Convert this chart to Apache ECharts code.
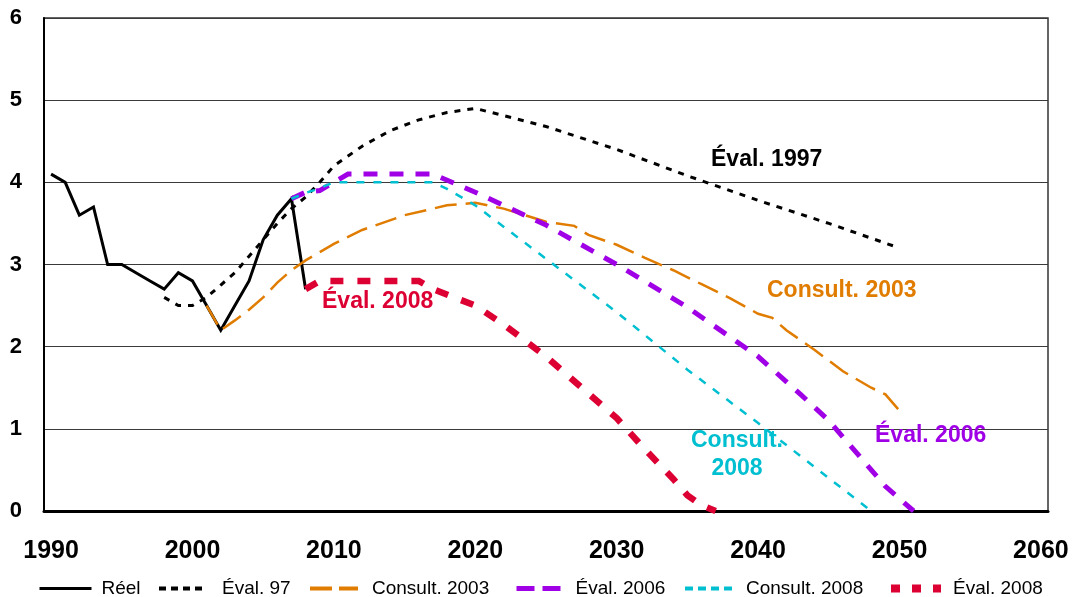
<!DOCTYPE html>
<html>
<head>
<meta charset="utf-8">
<script src="https://cdn.jsdelivr.net/npm/echarts@6/dist/echarts.min.js"></script>
<style>
html,body{margin:0;padding:0;background:#fff;}
#chart{width:1073px;height:597px;}
</style>
</head>
<body>
<div id="chart"></div>
<script>
// ---- Data ----
const firstYear = 1990, lastYear = 2060;
const categories = [];
for (let y = firstYear; y <= lastYear; y++) categories.push(String(y));
const yTicks = [0, 1, 2, 3, 4, 5, 6];

const reelYears = [1990,1991,1992,1993,1994,1995,1996,1997,1998,1999,2000,2001,2002,2003,2004,2005,2006,2007,2008];
const reelValues = [4.1,4.0,3.6,3.7,3.0,3.0,2.9,2.8,2.7,2.9,2.8,2.5,2.2,2.5,2.8,3.3,3.6,3.8,2.7];

const eval97Years = [1998,1999,2000,2001,2002,2003,2004,2005,2006,2007,2008,2009,2010,2011,2012,2014,2016,2018,2020,2025,2030,2035,2040,2045,2050];
const eval97Values = [2.6,2.5,2.5,2.6,2.75,2.9,3.1,3.3,3.5,3.68,3.82,4.0,4.2,4.32,4.44,4.63,4.76,4.85,4.9,4.68,4.4,4.08,3.78,3.5,3.2];

const consult03Years = [2001,2002,2003,2004,2005,2006,2007,2008,2010,2012,2015,2018,2020,2022,2025,2027,2028,2030,2032,2034,2036,2038,2040,2041,2042,2044,2046,2048,2049,2050];
const consult03Values = [2.5,2.2,2.32,2.45,2.6,2.78,2.93,3.05,3.25,3.42,3.6,3.72,3.75,3.68,3.52,3.47,3.36,3.24,3.08,2.93,2.76,2.59,2.4,2.35,2.2,1.96,1.7,1.5,1.42,1.22];

const eval06Years = [2007,2008,2009,2010,2011,2017,2020,2025,2030,2035,2040,2043,2045,2047,2049,2051];
const eval06Values = [3.8,3.88,3.9,4.0,4.1,4.1,3.88,3.48,3.0,2.48,1.88,1.42,1.1,0.7,0.3,0.0];

const consult08Years = [2007,2008,2009,2010,2017,2018,2020,2025,2030,2035,2040,2045,2048];
const consult08Values = [3.8,3.87,3.93,4.0,4.0,3.92,3.72,3.07,2.42,1.72,1.07,0.4,0.0];

const eval08Years = [2008,2009,2016,2017,2020,2022,2025,2028,2030,2032,2034,2035,2036,2037];
const eval08Values = [2.7,2.8,2.8,2.7,2.5,2.27,1.88,1.43,1.13,0.75,0.39,0.19,0.07,0.0];

const seriesNames = ['Réel','Éval. 97','Consult. 2003','Éval. 2006','Consult. 2008','Éval. 2008'];

// ---- Build ----
function pairs(years, values){ return years.map((y,i)=>[String(y), values[i]]); }

const C = {
  black:'#000000', orange:'#E07C00', purple:'#A000E6', cyan:'#00BFD0', red:'#DD0033'
};
const labelFont = "'Liberation Sans', Arial, sans-serif";
const legendFont = "'Liberation Sans', Arial, sans-serif";

function lineSeries(name, data, color, width, dash, z){
  return {
    name, type:'line', data, symbol:'none', showSymbol:false, z,
    animation:false,
    lineStyle:{color, width, type:dash, cap:'butt', join:'miter'},
    itemStyle:{color}
  };
}

const series = [
  lineSeries(seriesNames[0], pairs(reelYears, reelValues), C.black, 3, 'solid', 2),
  lineSeries(seriesNames[1], pairs(eval97Years, eval97Values), C.black, 3, [6,7], 3),
  lineSeries(seriesNames[2], pairs(consult03Years, consult03Values), C.orange, 2.5, [22,9], 4),
  lineSeries(seriesNames[3], pairs(eval06Years, eval06Values), C.purple, 5, [14,12], 5),
  lineSeries(seriesNames[4], pairs(consult08Years, consult08Values), C.cyan, 2.5, [8,9], 6),
  lineSeries(seriesNames[5], pairs(eval08Years, eval08Values), C.red, 6.5, [13,14], 7)
];

const legendPos = [
  {left:38,  w:52, pad:5,  lw:3, dash:'solid'},
  {left:157, w:44, pad:14, lw:4, dash:[7,5]},
  {left:308, w:48, pad:9,  lw:4, dash:[22,7]},
  {left:514, w:46, pad:8,  lw:5, dash:[18,8]},
  {left:683, w:49, pad:7,  lw:4, dash:[8,5]},
  {left:887, w:50, pad:7,  lw:8, dash:[9,12]}
];
const legends = legendPos.map((p,i)=>({
  data:[seriesNames[i]], left:p.left, top:579, itemWidth:p.w, itemHeight:14,
  itemGap:0, padding:0, selectedMode:false,
  itemStyle:{color:'rgba(0,0,0,0)', borderColor:'rgba(0,0,0,0)', borderWidth:0, opacity:0},
  lineStyle:{width:p.lw, type:p.dash, cap:'butt'},
  textStyle:{fontFamily:legendFont, fontSize:19, color:'#000', padding:[0,0,0,p.pad]}
}));

function txt(x, y, text, color, align){
  return {type:'text', x, y, z:100, style:{text, fill:color, font:"bold 23px 'Liberation Sans', Arial, sans-serif", textAlign:align||'left', textVerticalAlign:'middle'}};
}

const option = {
  animation:false,
  backgroundColor:'#fff',
  grid:{left:44, right:25, top:18, bottom:86, show:true, borderColor:'#333', borderWidth:1.5, backgroundColor:'transparent'},
  legend: legends,
  xAxis:{
    type:'category', data:categories, boundaryGap:true,
    axisLine:{show:true, lineStyle:{color:'#000', width:3}},
    axisTick:{show:false},
    splitLine:{show:false},
    axisLabel:{interval:9, margin:28, fontFamily:labelFont, fontWeight:'bold', fontSize:25, color:'#000'}
  },
  yAxis:{
    type:'value', min:yTicks[0], max:yTicks[yTicks.length-1], interval:1,
    axisLine:{show:true, lineStyle:{color:'#000', width:2}},
    axisTick:{show:false},
    splitLine:{show:true, lineStyle:{color:'#3a3a3a', width:1}},
    axisLabel:{margin:22, fontFamily:labelFont, fontWeight:'bold', fontSize:22, color:'#000'}
  },
  series,
  graphic:[
    txt(711, 160, 'Éval. 1997', '#000'),
    txt(767, 291, 'Consult. 2003', C.orange),
    txt(322, 302, 'Éval. 2008', C.red),
    txt(737, 441, 'Consult.', C.cyan, 'center'),
    txt(737, 469, '2008', C.cyan, 'center'),
    txt(875, 436, 'Éval. 2006', C.purple)
  ]
};

const chart = echarts.init(document.getElementById('chart'), null, {renderer:'canvas'});
chart.setOption(option);
</script>
</body>
</html>
